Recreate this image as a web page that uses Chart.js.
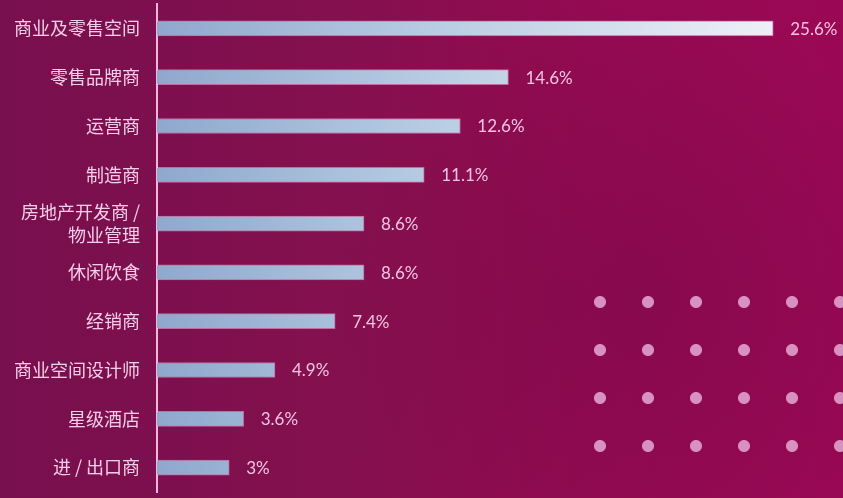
<!DOCTYPE html>
<html>
<head>
<meta charset="utf-8">
<script src="https://cdn.jsdelivr.net/npm/chart.js@4/dist/chart.umd.min.js"></script>
<style>
	html, body { margin: 0; padding: 0; }
	#wrap {
		position: relative;
		width: 843px;
		height: 498px;
		overflow: hidden;
		background:
			radial-gradient(ellipse 330px 300px at 640px 300px, rgba(110, 10, 70, 0.35), rgba(110, 10, 70, 0) 100%),
			linear-gradient(90deg, #780f4e 0%, #84104f 40%, #940a52 70%, #9a0855 100%);
	}
	#dots {
		position: absolute;
		left: 576px;
		top: 278px;
		width: 267px;
		height: 192px;
		background-image: radial-gradient(circle at 24px 24px, #d990c2 0, #d990c2 5.5px, rgba(217, 144, 194, 0) 6.5px);
		background-size: 48px 48px;
	}
	#stats { position: absolute; left: 0; top: 0; }
</style>
</head>
<body>
<div id="wrap">
	<div id="dots"></div>
	<canvas id="stats" width="843" height="498"></canvas>
</div>
<script>
const categories = [
	"商业及零售空间",
	"零售品牌商",
	"运营商",
	"制造商",
	["房地产开发商 /", "物业管理"],
	"休闲饮食",
	"经销商",
	"商业空间设计师",
	"星级酒店",
	"进 / 出口商"
]
const shares = [25.6, 14.6, 12.6, 11.1, 8.6, 8.6, 7.4, 4.9, 3.6, 3]
const shareLabels = ["25.6%", "14.6%", "12.6%", "11.1%", "8.6%", "8.6%", "7.4%", "4.9%", "3.6%", "3%"]

const valueLabels = {
	id: "valueLabels",
	afterDatasetsDraw(chart) {
		const ctx = chart.ctx
		ctx.save()
		ctx.font = "17px Lato, 'Noto Sans', sans-serif"
		ctx.fillStyle = "#f3c3e2"
		ctx.textAlign = "left"
		ctx.textBaseline = "middle"
		chart.getDatasetMeta(0).data.forEach((bar, i) => {
			ctx.fillText(shareLabels[i], bar.x + 17, bar.y + 1)
		})
		ctx.restore()
	}
}

const barFill = context => {
	const area = context.chart.chartArea
	if (!area) return "#a8bcd8"
	const g = context.chart.ctx.createLinearGradient(area.left, 0, area.left + 620, 0)
	g.addColorStop(0, "#8fa8cd")
	g.addColorStop(0.45, "#b8cde3")
	g.addColorStop(1, "#eef0f8")
	return g
}

new Chart(document.getElementById("stats"), {
	type: "bar",
	data: {
		labels: categories,
		datasets: [{
			data: shares,
			backgroundColor: barFill,
			borderColor: "rgba(255, 205, 235, 0.5)",
			borderWidth: 1,
			borderSkipped: "left",
			barThickness: 15
		}]
	},
	plugins: [valueLabels],
	options: {
		indexAxis: "y",
		responsive: false,
		animation: false,
		layout: { padding: { left: 0, right: 12, top: 4, bottom: 6 } },
		plugins: {
			legend: { display: false },
			tooltip: { enabled: false }
		},
		scales: {
			x: {
				min: 0,
				max: 28,
				display: false
			},
			y: {
				grid: { display: false },
				border: { display: true, color: "#f2b6dc", width: 2 },
				afterFit: scale => {
					scale.width = 157
					scale.paddingTop = 0
					scale.paddingBottom = 0
				},
				ticks: {
					color: "#f5cde8",
					padding: 9,
					font: { family: "'Noto Sans CJK SC', sans-serif", size: 18, lineHeight: 1.25 }
				}
			}
		}
	}
})
</script>
</body>
</html>
